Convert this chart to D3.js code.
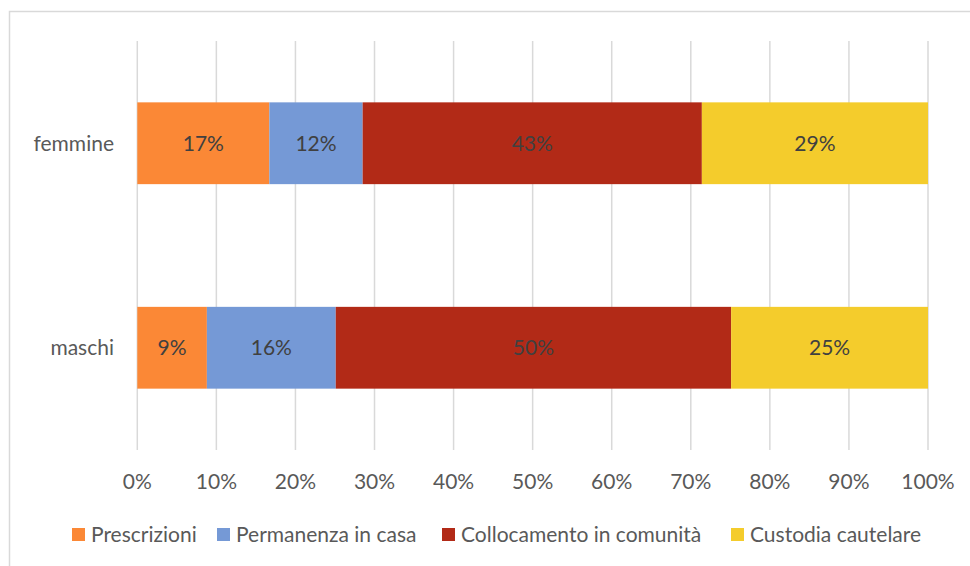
<!DOCTYPE html>
<html>
<head>
<meta charset="utf-8">
<script src="https://cdn.jsdelivr.net/npm/d3@7"></script>
<style>
  body { margin: 0; background: #fff; }
  text { font-family: Lato, "Open Sans", sans-serif; }
</style>
</head>
<body>
<div id="container"></div>
<script>
const categories = ["femmine", "maschi"];
const seriesNames = ["Prescrizioni", "Permanenza in casa", "Collocamento in comunità", "Custodia cautelare"];
// percent values per category, in series order
const femmine = [16.7, 11.8, 42.9, 28.6];
const maschi  = [8.8, 16.3, 50.0, 24.9];
const labels = {
  femmine: ["17%", "12%", "43%", "29%"],
  maschi:  ["9%", "16%", "50%", "25%"]
};
const ticks = [0, 10, 20, 30, 40, 50, 60, 70, 80, 90, 100];
const colors = ["#fb8836", "#7599d6", "#b22a17", "#f4cc2c"];

const width = 970, height = 566;
const plot = { left: 137.3, right: 928, top: 41, bottom: 450 };
const fontSize = 21;

const svg = d3.select("#container").append("svg")
    .attr("width", width)
    .attr("height", height);

// chart border
svg.append("rect")
    .attr("x", 9.5).attr("y", 11.5)
    .attr("width", 980).attr("height", 600)
    .attr("fill", "none")
    .attr("stroke", "#d9d9d9")
    .attr("stroke-width", 1.5);

const x = d3.scaleLinear().domain([0, 100]).range([plot.left, plot.right]);
const y = d3.scaleBand()
    .domain(categories)
    .range([plot.top, plot.bottom])
    .paddingInner(0.6)
    .paddingOuter(0.3);

// gridlines
svg.append("g")
  .selectAll("line")
  .data(ticks)
  .join("line")
    .attr("x1", d => x(d)).attr("x2", d => x(d))
    .attr("y1", plot.top).attr("y2", plot.bottom)
    .attr("stroke", "#d9d9d9")
    .attr("stroke-width", 1.5);

// tick labels
svg.append("g")
  .selectAll("text")
  .data(ticks)
  .join("text")
    .attr("x", d => x(d))
    .attr("y", 489)
    .attr("text-anchor", "middle")
    .attr("font-size", fontSize)
    .attr("fill", "#595959")
    .text(d => d + "%");

// category labels
svg.append("g")
  .selectAll("text")
  .data(categories)
  .join("text")
    .attr("x", 114)
    .attr("y", d => y(d) + y.bandwidth() / 2)
    .attr("dy", "0.35em")
    .attr("text-anchor", "end")
    .attr("font-size", fontSize)
    .attr("fill", "#595959")
    .text(d => d);

// stacked bars
const rows = { femmine, maschi };
const stacked = categories.map(c => {
  let acc = 0;
  return rows[c].map((v, i) => {
    const seg = { cat: c, i, x0: acc, x1: acc + v, label: labels[c][i] };
    acc += v;
    return seg;
  });
}).flat();

svg.append("g")
  .selectAll("rect")
  .data(stacked)
  .join("rect")
    .attr("x", d => x(d.x0))
    .attr("y", d => y(d.cat))
    .attr("width", d => x(d.x1) - x(d.x0))
    .attr("height", y.bandwidth())
    .attr("fill", d => colors[d.i]);

svg.append("g")
  .selectAll("text")
  .data(stacked)
  .join("text")
    .attr("x", d => (x(d.x0) + x(d.x1)) / 2)
    .attr("y", d => y(d.cat) + y.bandwidth() / 2)
    .attr("dy", "0.35em")
    .attr("text-anchor", "middle")
    .attr("font-size", fontSize)
    .attr("fill", "#404040")
    .text(d => d.label);

// legend
const legendX = [72, 217, 442, 731];
const legend = svg.append("g")
  .selectAll("g")
  .data(seriesNames)
  .join("g")
    .attr("transform", (d, i) => `translate(${legendX[i]},528)`);

legend.append("rect")
    .attr("width", 13).attr("height", 13)
    .attr("fill", (d, i) => colors[i]);

legend.append("text")
    .attr("x", 19)
    .attr("y", 6.5)
    .attr("dy", "0.35em")
    .attr("font-size", fontSize)
    .attr("fill", "#595959")
    .text(d => d);
</script>
</body>
</html>
